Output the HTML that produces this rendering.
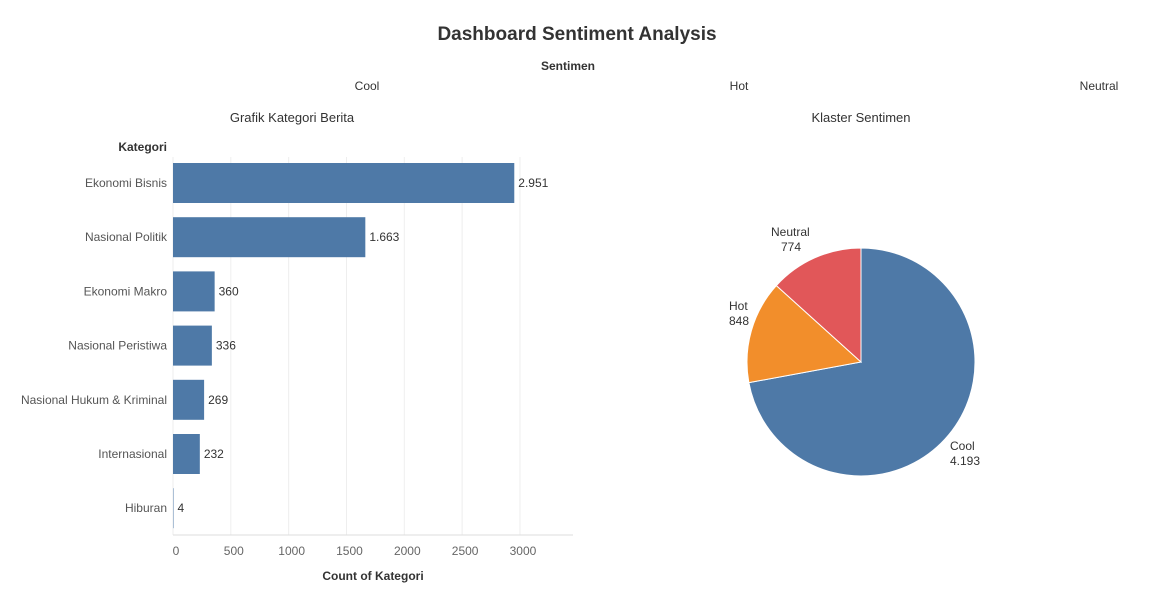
<!DOCTYPE html>
<html><head><meta charset="utf-8"><style>
body{margin:0;background:#fff;font-family:"Liberation Sans",sans-serif;}
svg text{font-family:"Liberation Sans",sans-serif;}
</style></head><body>
<svg width="1155" height="602" xmlns="http://www.w3.org/2000/svg">
<text x="577" y="40" text-anchor="middle" font-size="19" font-weight="bold" fill="#333">Dashboard Sentiment Analysis</text>
<text x="568" y="70" text-anchor="middle" font-size="12" fill="#333" font-weight="bold">Sentimen</text>
<text x="367" y="90" text-anchor="middle" font-size="12" fill="#333">Cool</text>
<text x="739" y="90" text-anchor="middle" font-size="12" fill="#333">Hot</text>
<text x="1099" y="90" text-anchor="middle" font-size="12" fill="#333">Neutral</text>
<text x="292" y="122" text-anchor="middle" font-size="13" fill="#333">Grafik Kategori Berita</text>
<text x="861" y="122" text-anchor="middle" font-size="13" fill="#333">Klaster Sentimen</text>
<text x="167" y="151" text-anchor="end" font-size="12" fill="#333" font-weight="bold">Kategori</text>
<text x="373" y="580" text-anchor="middle" font-size="12" fill="#333" font-weight="bold">Count of Kategori</text>
<g id="bars"></g><g id="pie"></g>
</svg>
<script>
const categories=["Ekonomi Bisnis","Nasional Politik","Ekonomi Makro","Nasional Peristiwa","Nasional Hukum & Kriminal","Internasional","Hiburan"];
const counts=[2951,1663,360,336,269,232,4];
const countLabels=["2.951","1.663","360","336","269","232","4"];
const xTicks=[0,500,1000,1500,2000,2500,3000];
const sentiments=["Cool","Hot","Neutral"];
const sentimentCounts=[4193,848,774];
const sentimentLabels=["4.193","848","774"];
const colors=["#4e79a7","#f28e2b","#e15759"];
const NS="http://www.w3.org/2000/svg";
function mk(t,a,p){const e=document.createElementNS(NS,t);for(const k in a)e.setAttribute(k,a[k]);p.appendChild(e);return e;}
const x=v=>173+v*0.11565;
const y=i=>183+i*54.2;
const bars=document.getElementById('bars');
xTicks.forEach(t=>{
 const l=mk('line',{x1:x(t),x2:x(t),y1:157,y2:535,stroke:'#eee'},bars);
 
 
 const tx=mk('text',{x:x(t)+3,y:555,'text-anchor':'middle','font-size':12,fill:'#666'},bars);tx.textContent=t;
 
 
});
const ax=mk('line',{x1:173,x2:573,y1:535,y2:535,stroke:'#ddd'},bars);


categories.forEach((c,i)=>{
 const r=mk('rect',{x:x(0),y:y(i)-20,width:Math.max(0,x(counts[i])-x(0)),height:40,fill:'#4e79a7'},bars);
 
 
 const t=mk('text',{x:167,y:y(i)+4,'text-anchor':'end','font-size':12,fill:'#555'},bars);t.textContent=c;
 
 
 const v=mk('text',{x:x(counts[i])+4,y:y(i)+4,'font-size':12,fill:'#333'},bars);v.textContent=countLabels[i];
 
 
});
const pie=document.getElementById('pie');
const cx=861,cy=362,R=114,tot=sentimentCounts.reduce((a,b)=>a+b,0);
let a0=0;
const lp=[[950,450,'start'],[729,310,'start'],[771,236,'start']];
sentimentCounts.forEach((v,i)=>{
 const a1=a0+v/tot*2*Math.PI;
 const p=(a)=>[cx+R*Math.sin(a),cy-R*Math.cos(a)];
 const [x0,y0]=p(a0),[x1,y1]=p(a1);
 const s=mk('path',{d:`M${cx},${cy}L${x0},${y0}A${R},${R} 0 ${a1-a0>Math.PI?1:0} 1 ${x1},${y1}Z`,fill:colors[i],stroke:'#fff','stroke-width':1},pie);
 
 
 const t=mk('text',{x:lp[i][0],y:lp[i][1],'font-size':12,fill:'#333'},pie);
 t.innerHTML=`<tspan x="${lp[i][0]}">${sentiments[i]}</tspan><tspan x="${lp[i][0]+(i==2?10:0)}" dy="15">${sentimentLabels[i]}</tspan>`;
 
 
 a0=a1;
});
</script>
</body></html>
